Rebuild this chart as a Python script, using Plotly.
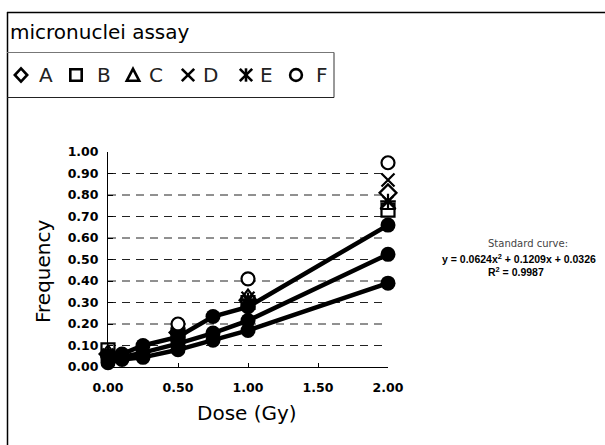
import plotly.graph_objects as go

# ---------------- data ----------------
dose_open = [0.0, 0.5, 1.0, 2.0]
series_A = [0.06, 0.16, 0.31, 0.81]
series_B = [0.08, 0.15, 0.30, 0.73]
series_C = [0.07, 0.17, 0.33, 0.75]
series_D = [0.05, 0.15, 0.32, 0.87]
series_E = [0.06, 0.16, 0.31, 0.77]
series_F = [0.05, 0.20, 0.41, 0.95]

dose_curve = [0.0, 0.1, 0.25, 0.5, 0.75, 1.0, 2.0]
curve_upper = [0.045, 0.06, 0.10, 0.14, 0.235, 0.28, 0.66]
curve_standard = [0.033, 0.045, 0.067, 0.109, 0.158, 0.216, 0.524]
curve_lower = [0.02, 0.035, 0.045, 0.08, 0.125, 0.17, 0.39]

x_ticks = [0.0, 0.5, 1.0, 1.5, 2.0]
y_ticks = [0.0, 0.1, 0.2, 0.3, 0.4, 0.5, 0.6, 0.7, 0.8, 0.9, 1.0]
y_grid = [0.1, 0.2, 0.3, 0.4, 0.5, 0.6, 0.7, 0.8, 0.9]

legend_names = ["A", "B", "C", "D", "E", "F"]
legend_symbols = ["diamond", "square", "triangle", "x", "asterisk", "circle"]

title_text = "micronuclei assay"
x_title = "Dose (Gy)"
y_title = "Frequency"
eq_lines = ["Standard curve:", "y = 0.0624x<sup>2</sup> + 0.1209x + 0.0326", "R<sup>2</sup> = 0.9987"]

# ---------------- layout geometry ----------------
W, H = 605, 445
L, R, T, B = 108, 217, 152, 78
PW, PH = W - L - R, H - T - B

def px(xp):
    return (xp - L) / PW

def py(yp):
    return (H - B - yp) / PH

fig = go.Figure()

open_specs = [
    (series_A, "diamond", "A"),
    (series_B, "square", "B"),
    (series_C, "triangle-up", "C"),
    (series_D, "x-thin", "D"),
    (series_E, "asterisk", "E"),
    (series_F, "circle", "F"),
]
for vals, sym, name in open_specs:
    thin = sym in ("x-thin", "asterisk")
    fig.add_trace(go.Scatter(
        x=dose_open, y=vals, mode="markers", name=name,
        marker=dict(symbol=sym, size=13,
                    color="white" if not thin else "black",
                    line=dict(color="black", width=2.2)),
        cliponaxis=False, showlegend=False))

for vals in (curve_lower, curve_standard, curve_upper):
    fig.add_trace(go.Scatter(
        x=dose_curve, y=vals, mode="lines+markers",
        line=dict(color="black", width=4.5),
        marker=dict(symbol="circle", size=15, color="black"),
        cliponaxis=False, showlegend=False))

shapes = []
for g in y_grid:
    shapes.append(dict(type="line", xref="x", yref="y", x0=0, x1=2, y0=g, y1=g,
                       line=dict(color="#222", width=1, dash="8px,6px"), layer="below"))
# outer frame
shapes.append(dict(type="line", xref="paper", yref="paper", x0=px(7), x1=px(W + 5),
                   y0=py(12.5), y1=py(12.5), line=dict(color="black", width=1.5)))
shapes.append(dict(type="line", xref="paper", yref="paper", x0=px(7.5), x1=px(7.5),
                   y0=py(12), y1=py(H + 5), line=dict(color="black", width=1.5)))
# legend box
shapes.append(dict(type="line", xref="paper", yref="paper", x0=px(7), x1=px(334),
                   y0=py(52.5), y1=py(52.5), line=dict(color="#777", width=1.2)))
shapes.append(dict(type="line", xref="paper", yref="paper", x0=px(334), x1=px(334),
                   y0=py(52.5), y1=py(97.5), line=dict(color="#555", width=1.2)))
shapes.append(dict(type="line", xref="paper", yref="paper", x0=px(7), x1=px(334),
                   y0=py(97.5), y1=py(97.5), line=dict(color="#222", width=1.2)))

# legend symbols drawn as small outline shapes
glyph_x = [21, 76, 133, 188, 246, 296]
name_x = [37, 95, 147, 201, 258, 314]
gy, hs = 75, 6.2
sym_line = dict(color="black", width=2.6)

def path(points):
    return "M " + " L ".join(f"{px(a):.5f},{py(b):.5f}" for a, b in points) + " Z"

for sym, cx in zip(legend_symbols, glyph_x):
    if sym == "diamond":
        shapes.append(dict(type="path", xref="paper", yref="paper", line=sym_line,
                           path=path([(cx, gy - hs - 0.5), (cx + hs, gy), (cx, gy + hs + 0.5), (cx - hs, gy)])))
    elif sym == "square":
        shapes.append(dict(type="rect", xref="paper", yref="paper", line=sym_line,
                           x0=px(cx - hs + 0.5), x1=px(cx + hs - 0.5), y0=py(gy - hs + 0.5), y1=py(gy + hs - 0.5)))
    elif sym == "triangle":
        shapes.append(dict(type="path", xref="paper", yref="paper", line=sym_line,
                           path=path([(cx, gy - hs), (cx + hs, gy + hs - 0.5), (cx - hs, gy + hs - 0.5)])))
    elif sym == "x":
        for s in (1, -1):
            shapes.append(dict(type="line", xref="paper", yref="paper", line=sym_line,
                               x0=px(cx - hs), x1=px(cx + hs), y0=py(gy - s * hs), y1=py(gy + s * hs)))
    elif sym == "asterisk":
        for s in (1, -1):
            shapes.append(dict(type="line", xref="paper", yref="paper", line=sym_line,
                               x0=px(cx - hs), x1=px(cx + hs), y0=py(gy - s * hs), y1=py(gy + s * hs)))
        shapes.append(dict(type="line", xref="paper", yref="paper", line=sym_line,
                           x0=px(cx), x1=px(cx), y0=py(gy - hs - 0.5), y1=py(gy + hs + 0.5)))
    elif sym == "circle":
        shapes.append(dict(type="circle", xref="paper", yref="paper", line=sym_line,
                           x0=px(cx - hs + 0.3), x1=px(cx + hs - 0.3), y0=py(gy - hs + 0.3), y1=py(gy + hs - 0.3)))

ann = []
ann.append(dict(text=title_text, x=px(8), y=py(32), xref="paper", yref="paper",
                xanchor="left", yanchor="middle", showarrow=False,
                font=dict(family="DejaVu Sans", size=20, color="black")))
for nm, nx in zip(legend_names, name_x):
    ann.append(dict(text=nm, x=px(nx), y=py(75), xref="paper", yref="paper",
                    xanchor="left", yanchor="middle", showarrow=False,
                    font=dict(family="DejaVu Sans", size=20, color="#222")))
ann.append(dict(text=x_title, x=px(247), y=py(413), xref="paper", yref="paper",
                xanchor="center", yanchor="middle", showarrow=False,
                font=dict(family="DejaVu Sans", size=20, color="black")))
ann.append(dict(text=y_title, x=px(43), y=py(272), xref="paper", yref="paper",
                xanchor="center", yanchor="middle", showarrow=False, textangle=-90,
                font=dict(family="DejaVu Sans", size=20, color="black")))
ann.append(dict(text=eq_lines[0], x=px(528), y=py(243), xref="paper", yref="paper",
                xanchor="center", yanchor="middle", showarrow=False,
                font=dict(family="DejaVu Sans", size=10, color="#444")))
ann.append(dict(text="<b>" + eq_lines[1] + "</b>", x=px(440), y=py(258), xref="paper", yref="paper",
                xanchor="left", yanchor="middle", showarrow=False,
                font=dict(family="Liberation Sans", size=10.5, color="black")))
ann.append(dict(text="<b>" + eq_lines[2] + "</b>", x=px(516), y=py(271), xref="paper", yref="paper",
                xanchor="center", yanchor="middle", showarrow=False,
                font=dict(family="Liberation Sans", size=10.5, color="black")))

fig.update_layout(
    width=W, height=H, autosize=False,
    margin=dict(l=L, r=R, t=T, b=B, pad=0),
    paper_bgcolor="white", plot_bgcolor="white",
    shapes=shapes, annotations=ann,
    xaxis=dict(range=[0, 2], tickvals=x_ticks, tickformat=".2f",
               showgrid=False, zeroline=False, showline=True, linecolor="black", linewidth=1,
               ticks="inside", ticklen=4, tickcolor="black",
               ticklabelstandoff=9,
               tickfont=dict(family="DejaVu Sans", size=12.5, color="black", weight="bold")),
    yaxis=dict(range=[0, 1], tickvals=y_ticks, tickformat=".2f",
               showgrid=False, zeroline=False, showline=True, linecolor="black", linewidth=1,
               ticks="inside", ticklen=5, tickcolor="black",
               ticklabelstandoff=6,
               tickfont=dict(family="DejaVu Sans", size=12.5, color="black", weight="bold")),
)

fig.write_html("out.html", config={"displayModeBar": False},
               post_script="document.body.style.margin='0px';document.body.style.overflow='hidden';")
